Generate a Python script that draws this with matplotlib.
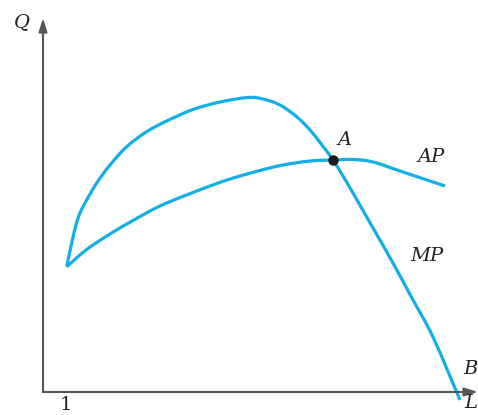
import matplotlib
matplotlib.use("Agg")
import matplotlib.pyplot as plt
from matplotlib.path import Path
from matplotlib.patches import PathPatch

# Data in chart units (L horizontal, Q vertical)
mp_L = [23.7, 28.7, 33, 37, 43.7, 53.7, 67, 83.7, 103.7, 123.7, 150, 177, 205, 220, 237, 254, 267, 279, 290, 300, 310, 330, 350, 370, 390, 417]
mp_Q = [125.3, 149, 167, 179, 192, 209, 227, 245.3, 260.3, 271, 282.5, 290, 294.5, 293, 287, 275, 262, 247, 232, 216, 199, 164, 129, 92, 55, -8]
ap_L = [23.7, 43.7, 67, 90, 117, 150, 184, 217, 240, 267, 290, 310, 330, 360, 402]
ap_Q = [125.3, 142.5, 158, 171.5, 186, 199.5, 212, 221.5, 227, 231, 232, 232.5, 230, 220, 206]
point_A = (290, 232)
tick_one = 23

BLUE = "#11aee8"
AXC = "#555555"


def smooth_path(xs, ys):
    """Cubic Bezier path through the given points (Catmull-Rom handles)."""
    pts = list(zip(xs, ys))
    verts = [pts[0]]
    codes = [Path.MOVETO]
    n = len(pts)
    for i in range(n - 1):
        p0 = pts[i - 1] if i > 0 else pts[i]
        p1 = pts[i]
        p2 = pts[i + 1]
        p3 = pts[i + 2] if i + 2 < n else pts[i + 1]
        c1 = (p1[0] + (p2[0] - p0[0]) / 6, p1[1] + (p2[1] - p0[1]) / 6)
        c2 = (p2[0] - (p3[0] - p1[0]) / 6, p2[1] - (p3[1] - p1[1]) / 6)
        verts += [c1, c2, p2]
        codes += [Path.CURVE4] * 3
    return Path(verts, codes)


fig = plt.figure(figsize=(4.78, 4.15), dpi=100)
ax = fig.add_axes([0, 0, 1, 1])
ax.set_xlim(-43, 435)
ax.set_ylim(-23, 392)
ax.axis("off")

ax.add_patch(PathPatch(smooth_path(mp_L, mp_Q), fill=False, edgecolor=BLUE, lw=2.3, capstyle="butt"))
ax.add_patch(PathPatch(smooth_path(ap_L, ap_Q), fill=False, edgecolor=BLUE, lw=2.3, capstyle="butt"))
ax.plot([point_A[0]], [point_A[1]], "o", color="#1a1a1a", ms=6.5, zorder=5)

# axes with arrows
ax.annotate("", xy=(0, 374), xytext=(0, 0),
            arrowprops=dict(arrowstyle="-|>,head_length=0.8,head_width=0.25", color=AXC, lw=1.5, shrinkA=0, shrinkB=0))
ax.annotate("", xy=(435, 0), xytext=(0, 0),
            arrowprops=dict(arrowstyle="-|>,head_length=0.8,head_width=0.25", color=AXC, lw=1.5, shrinkA=0, shrinkB=0))

tf = dict(family="DejaVu Serif", style="italic", color="#222222", fontsize=14)
ax.text(-21, 370, "Q", ha="center", va="center", **tf)
ax.text(302, 252, "A", ha="center", va="center", **tf)
ax.text(388, 235, "AP", ha="center", va="center", **tf)
ax.text(384, 136, "MP", ha="center", va="center", **tf)
ax.text(427, 23, "B", ha="center", va="center", **tf)
ax.text(428, -11, "L", ha="center", va="center", **tf)
ax.text(tick_one, -13, "1", ha="center", va="center", family="DejaVu Serif", color="#222222", fontsize=14)

fig.savefig("out.png", dpi=100)
